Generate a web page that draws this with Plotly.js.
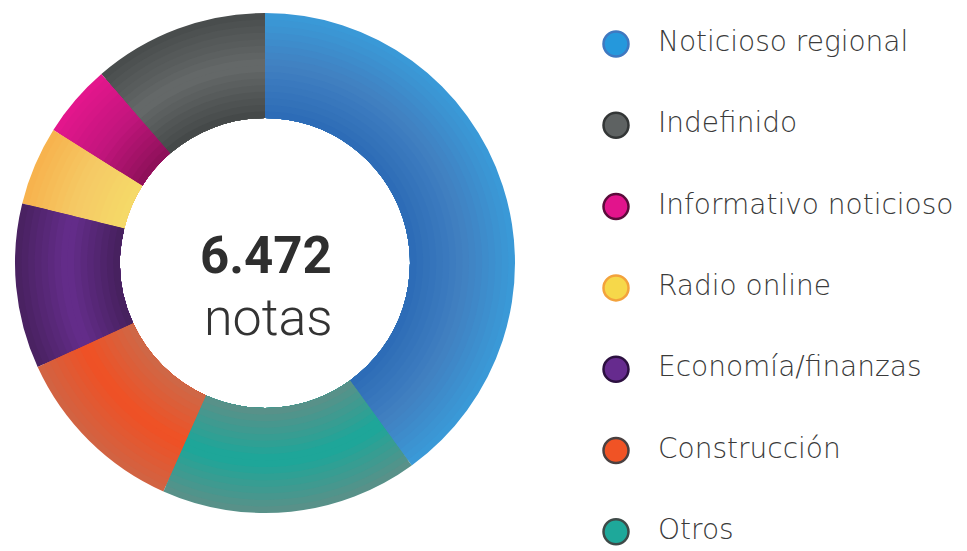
<!DOCTYPE html>
<html>
<head>
<meta charset="utf-8">
<script src="https://cdn.plot.ly/plotly-3.0.1.min.js"></script>
<style>html,body{margin:0;padding:0;background:#fff;}#chart{width:967px;height:551px;}</style>
</head>
<body>
<div id="chart"></div>
<script>
// Categories in legend order (pie runs clockwise from 12 o'clock: first, then the rest in reverse)
const categories = ["Noticioso regional", "Indefinido", "Informativo noticioso", "Radio online", "Economía/finanzas", "Construcción", "Otros"];
const values = [2590, 735, 305, 330, 690, 745, 1077];
// radial colour profile of each slice: inner edge, middle, outer edge
const innerColors = ["#2c6bb6", "#434747", "#8c1058", "#f5da68", "#45205c", "#cd6848", "#5c8f88"];
const midColors   = ["#4180c1", "#666a6a", "#c2157d", "#f5c965", "#652d8c", "#f05024", "#1aa79a"];
const outerColors = ["#3a9bd8", "#474b4b", "#e5168d", "#f7b24c", "#48215f", "#d06444", "#5c8f88"];
const markerColors = ["#2598dc", "#5e6262", "#e2148c", "#f6d84a", "#662b8e", "#f05325", "#1ea89a"];
const markerLines  = ["#3f78c0", "#333636", "#5a0c3a", "#f3a23c", "#2c1040", "#4a4040", "#3e4a48"];
const centerValue = "6.472";
const centerLabel = "notas";

function hex2rgb(h) { return [1, 3, 5].map(i => parseInt(h.substr(i, 2), 16)); }
function mix(a, b, t) {
  const A = hex2rgb(a), B = hex2rgb(b);
  return "rgb(" + A.map((v, i) => Math.round(v + (B[i] - v) * t)).join(",") + ")";
}
function profile(i, t) {
  return t < 0.5 ? mix(innerColors[i], midColors[i], t / 0.5) : mix(midColors[i], outerColors[i], (t - 0.5) / 0.5);
}

const W = 967, H = 551, CX = 265, CY = 263, R_OUT = 250, R_IN = 145, N_RINGS = 16;
const step = (R_OUT - R_IN) / N_RINGS;
const traces = [];
for (let k = 0; k < N_RINGS; k++) {
  const R = R_OUT - k * step;            // outer radius of this layer
  const t = (R - step / 2 - R_IN) / (R_OUT - R_IN);  // visible band centre
  traces.push({
    type: "pie",
    labels: categories,
    values: values,
    sort: false,
    direction: "counterclockwise",
    rotation: 0,
    hole: R_IN / R,
    textinfo: "none",
    hoverinfo: k === 0 ? "label+value+percent" : "skip",
    showlegend: false,
    marker: { colors: categories.map((_, i) => profile(i, t)), line: { width: 0 } },
    domain: { x: [(CX - R) / W, (CX + R) / W], y: [1 - (CY + R) / H, 1 - (CY - R) / H] }
  });
}

const legendIndex = categories.map((_, i) => i);
traces.push({
  type: "scatter",
  mode: "markers",
  x: categories.map(() => 0),
  y: legendIndex,
  marker: { size: 25, color: markerColors, line: { color: markerLines, width: 2.5 } },
  hoverinfo: "skip",
  showlegend: false
});
traces.push({
  type: "scatter",
  mode: "text",
  x: categories.map(() => 1),
  y: legendIndex,
  text: categories,
  textposition: "middle right",
  textfont: { family: "DejaVu Sans, sans-serif", size: 28, color: "#3a3a3a", weight: 200 },
  hoverinfo: "skip",
  showlegend: false
});

const unit = 81.3;
const layout = {
  width: W,
  height: H,
  margin: { l: 0, r: 0, t: 0, b: 0 },
  paper_bgcolor: "#ffffff",
  plot_bgcolor: "rgba(0,0,0,0)",
  showlegend: false,
  xaxis: { domain: [0, 1], range: [-616 / 42, (W - 616) / 42], visible: false, fixedrange: true },
  yaxis: { domain: [0, 1], range: [(H - 44) / unit, -44 / unit], visible: false, fixedrange: true },
  annotations: [
    { text: "<b>" + centerValue + "</b>", x: 266 / W, y: 1 - 286 / H, xref: "paper", yref: "paper",
      showarrow: false, xanchor: "center", yanchor: "bottom", borderpad: 0,
      font: { family: "Roboto, sans-serif", size: 51, color: "#2e2e2e" } },
    { text: centerLabel, x: 268 / W, y: 1 - 286 / H, xref: "paper", yref: "paper",
      showarrow: false, xanchor: "center", yanchor: "top", borderpad: 0,
      font: { family: "Roboto, sans-serif", size: 52, color: "#333333", weight: 300 } }
  ]
};

Plotly.newPlot("chart", traces, layout, { displayModeBar: false, staticPlot: true });
</script>
</body>
</html>
